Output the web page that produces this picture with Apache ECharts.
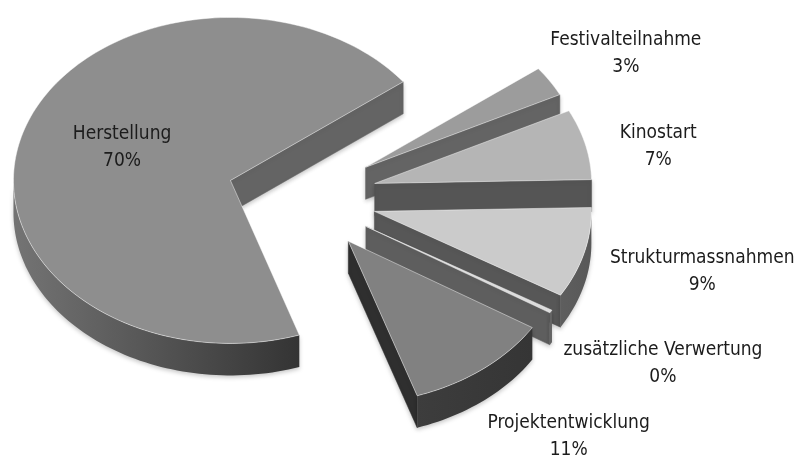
<!DOCTYPE html>
<html>
<head>
<meta charset="utf-8">
<script src="https://cdn.jsdelivr.net/npm/echarts@6/dist/echarts.min.js"></script>
<style>
  html, body { margin: 0; padding: 0; background: #ffffff; }
  #chart { width: 798px; height: 457px; }
</style>
</head>
<body>
<div id="chart"></div>
<script>
// Budget shares, listed clockwise starting with the large slice
const categories = ['Herstellung', 'Festivalteilnahme', 'Kinostart', 'Strukturmassnahmen', 'zusätzliche Verwertung', 'Projektentwicklung'];
const values = [70, 3, 7, 9, 0.3, 11];

// Slice appearance
const topColors  = ['#8e8e8e', '#9c9c9c', '#b5b5b5', '#cbcbcb', '#dcdcdc', '#818181'];
const faceColors = ['#646464', '#646464', '#555555', '#575757', '#5e5e5e', '#2f2f2f'];
const wallColors = [['#747474', '#343434'], ['#5c5c5c', '#5c5c5c'], ['#555555', '#555555'],
                    ['#5e5e5e', '#585858'], ['#666666', '#626262'], ['#3d3d3d', '#353535']];
// Label block offsets from the outer midpoint of each slice's top face
const labelOffsets = [[99, 15], [76, -28], [73, 2], [118, 19], [112, 52], [86, 67]];

// Tilted pie geometry (screen angles, clockwise, 0 = 3 o'clock)
const geo = { cx: 302, cy: 197, rx: 217, ry: 163, depth: 32, explode: 0.345, startAngle: 71.5 };

const total = values.reduce((a, b) => a + b, 0);
const rad = d => d * Math.PI / 180;

let acc = geo.startAngle;
const slices = values.map(v => {
  const span = v / total * 360;
  const s = { a0: acc, a1: acc + span, mid: acc + span / 2 };
  acc += span;
  return s;
});

// Painter's order: slices further back are drawn first
const order = slices.map((s, i) => i).sort((a, b) => Math.sin(rad(slices[a].mid)) - Math.sin(rad(slices[b].mid)));
const rank = [];
order.forEach((idx, r) => { rank[idx] = r; });

function apexOf(s) {
  const m = rad(s.mid);
  return [geo.cx + geo.explode * geo.rx * Math.cos(m), geo.cy + geo.explode * geo.ry * Math.sin(m)];
}
function pt(A, t, dy) {
  return [A[0] + geo.rx * Math.cos(rad(t)), A[1] + geo.ry * Math.sin(rad(t)) + (dy || 0)];
}
function arc(A, t0, t1, dy) {
  const n = Math.max(2, Math.ceil(Math.abs(t1 - t0) / 1.5));
  const out = [];
  for (let k = 0; k <= n; k++) out.push(pt(A, t0 + (t1 - t0) * k / n, dy));
  return out;
}

function renderSlice(params, api) {
  const i = params.dataIndex;
  const s = slices[i];
  const A = apexOf(s);
  const base = rank[i] * 10;
  const children = [];
  const shadow = { shadowColor: 'rgba(0,0,0,0.22)', shadowBlur: 4, shadowOffsetY: 2 };

  // radial cut faces that face the viewer
  [[s.a0, Math.cos(rad(s.a0)) < 0], [s.a1, Math.cos(rad(s.a1)) > 0]].forEach(([t, visible]) => {
    if (!visible) return;
    const P = pt(A, t);
    children.push({
      type: 'polygon', z2: base + 1,
      shape: { points: [A, P, [P[0], P[1] + geo.depth], [A[0], A[1] + geo.depth]] },
      style: Object.assign({ fill: faceColors[i], stroke: faceColors[i], lineWidth: 0.5 }, shadow)
    });
  });

  // outer curved wall on the front half
  for (let k = -1; k <= 2; k++) {
    const u0 = Math.max(s.a0, k * 360), u1 = Math.min(s.a1, k * 360 + 180);
    if (u1 <= u0) continue;
    const pts = arc(A, u0, u1, 0).concat(arc(A, u1, u0, geo.depth));
    children.push({
      type: 'polygon', z2: base + 2,
      shape: { points: pts },
      style: Object.assign({
        fill: new echarts.graphic.LinearGradient(0, 0, 1, 0, [
          { offset: 0, color: wallColors[i][0] },
          { offset: 1, color: wallColors[i][1] }
        ]),
        lineWidth: 0
      }, shadow)
    });
  }

  // top face
  children.push({
    type: 'polygon', z2: base + 3,
    shape: { points: [A].concat(arc(A, s.a0, s.a1, 0)) },
    style: { fill: topColors[i], stroke: 'rgba(255,255,255,0.45)', lineWidth: 1 }
  });

  // label
  const O = pt(A, s.mid);
  const pct = Math.round(api.value(0) / total * 100);
  children.push({
    type: 'text', z2: 200,
    style: {
      text: categories[i] + '\n' + pct + '%',
      x: O[0] + labelOffsets[i][0],
      y: O[1] + labelOffsets[i][1],
      align: 'center', verticalAlign: 'middle',
      textAlign: 'center', textVerticalAlign: 'middle',
      font: '19px "DejaVu Sans Condensed", "Liberation Sans", sans-serif',
      lineHeight: 27,
      fill: '#1c1c1c'
    }
  });

  return { type: 'group', children: children };
}

const chart = echarts.init(document.getElementById('chart'), null, { renderer: 'canvas' });
chart.setOption({
  backgroundColor: '#ffffff',
  animation: false,
  series: [{
    type: 'custom',
    coordinateSystem: 'none',
    data: values.map((v, i) => ({ name: categories[i], value: v })),
    renderItem: renderSlice
  }]
});
</script>
</body>
</html>
